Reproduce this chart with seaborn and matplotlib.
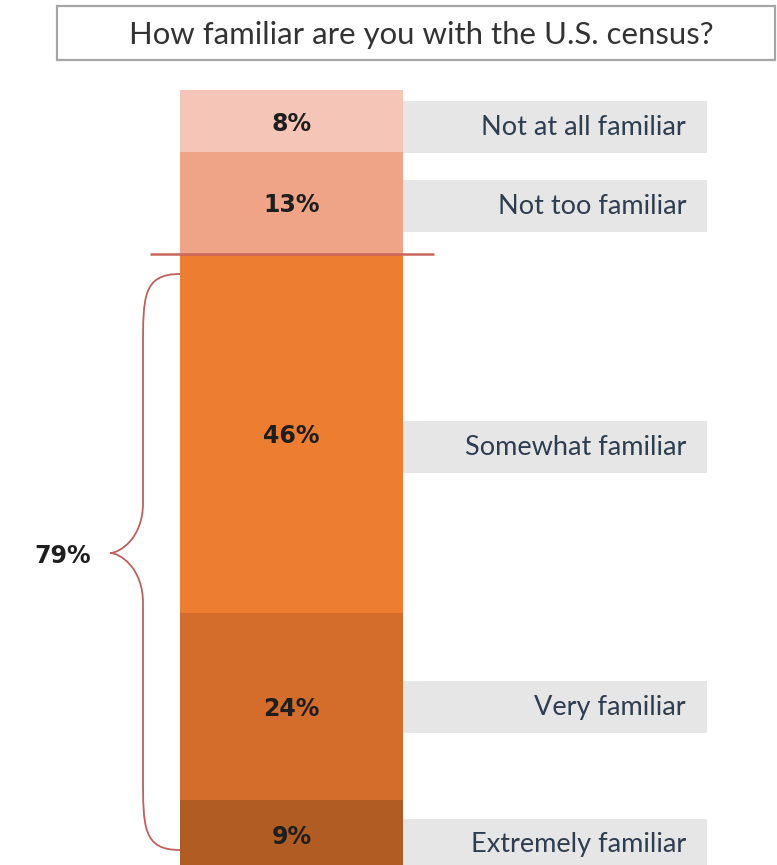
import matplotlib
matplotlib.use("Agg")
import matplotlib.pyplot as plt
import matplotlib.patches as mpatches
from matplotlib.path import Path
import numpy as np
import pandas as pd
import seaborn as sns

# ---------------- data ----------------
title = "How familiar are you with the U.S. census?"
categories = ["Not at all familiar", "Not too familiar", "Somewhat familiar",
              "Very familiar", "Extremely familiar"]
values = [8, 13, 46, 24, 9]
colors = ["#F5C6B7", "#F0A487", "#ED7D31", "#D46C2B", "#B15C22"]
net_count = 3          # last three categories form the "familiar" net
net_label = "79%"

# ---------------- style ----------------
sns.set_theme(style="white")
plt.rcParams["font.family"] = ["Lato", "DejaVu Sans"]

W, H = 777, 865
fig = plt.figure(figsize=(W / 100, H / 100), dpi=100)
ax = fig.add_axes([0, 0, 1, 1])
ax.set_axis_off()

# pixel geometry of the layout
bar_left_px, bar_right_px = 180, 403
top_px, base_px = 90, 870
ppu = (base_px - top_px) / 100.0
bar_w = 0.8
unit = (bar_right_px - bar_left_px) / bar_w
cx_px = (bar_left_px + bar_right_px) / 2


def xd(px):
    return (px - cx_px) / unit


def yd(px):
    return (base_px - px) / ppu


# cumulative (bottom-up) stacking via overlapping seaborn bars
rev_vals = values[::-1]
cum = np.cumsum(rev_vals)
tops = cum[::-1]
bottoms = tops - np.array(values)

for cat, top, col in zip(categories, tops, colors):
    df = pd.DataFrame({"q": ["census"], "pct": [top]})
    sns.barplot(data=df, x="q", y="pct", color=col, saturation=1,
                width=bar_w, linewidth=0, ax=ax)

ax.set_xlim(xd(0), xd(W))
ax.set_ylim(yd(H), yd(0))
ax.set_axis_off()

pct_font = dict(fontsize=17, fontweight="bold", color="#1E1E1E",
                family=["DejaVu Sans"])

# segment value labels
for v, b, t in zip(values, bottoms, tops):
    ax.text(0, (b + t) / 2 - 0.3, f"{v}%", ha="center", va="center", **pct_font)

# category labels with grey bands (offset downward in px)
label_offsets_px = [6, 3, 14, 1, 10]
band_h = 52 / ppu
for cat, b, t, off in zip(categories, bottoms, tops, label_offsets_px):
    yc = (b + t) / 2 - off / ppu
    ax.add_patch(mpatches.Rectangle((xd(403), yc - band_h / 2), xd(707) - xd(403),
                                    band_h, facecolor="#E6E6E6", edgecolor="none",
                                    zorder=0))
    ax.text(xd(686), yc, cat, ha="right", va="center", fontsize=19.5,
            color="#2E3D4F")

# red separator line at the top of the net
net_top = tops[len(values) - net_count]
ax.hlines(net_top, xd(150), xd(434), color="#C8665C", lw=1.8, zorder=5)

# curly brace for the net
y_hi = yd(274)
y_lo = yd(850)
y_mid = yd(553)
x_end, x_line, x_tip = xd(180), xd(143), xd(110)
r_end = 75 / ppu
r_tip = 50 / ppu
verts = [
    (x_end, y_hi),
    (x_line, y_hi), (x_line, y_hi - r_end * 0.3), (x_line, y_hi - r_end),
    (x_line, y_mid + r_tip),
    (x_line, y_mid + r_tip * 0.3), (x_tip + (x_line - x_tip) * 0.3, y_mid), (x_tip, y_mid),
    (x_tip + (x_line - x_tip) * 0.3, y_mid), (x_line, y_mid - r_tip * 0.3), (x_line, y_mid - r_tip),
    (x_line, y_lo + r_end),
    (x_line, y_lo + r_end * 0.3), (x_line, y_lo), (x_end, y_lo),
]
codes = [Path.MOVETO,
         Path.CURVE4, Path.CURVE4, Path.CURVE4,
         Path.LINETO,
         Path.CURVE4, Path.CURVE4, Path.CURVE4,
         Path.CURVE4, Path.CURVE4, Path.CURVE4,
         Path.LINETO,
         Path.CURVE4, Path.CURVE4, Path.CURVE4]
ax.add_patch(mpatches.PathPatch(Path(verts, codes), facecolor="none",
                                edgecolor="#C0605A", lw=1.3))
ax.text(xd(63), yd(556), net_label, ha="center", va="center", **pct_font)

# title box
fig.add_artist(mpatches.Rectangle((57 / W, 1 - 60 / H), (775 - 57) / W, 54 / H,
                                  transform=fig.transFigure, fill=False,
                                  edgecolor="#A6A6A6", lw=1.6))
fig.text(421 / W, 1 - 35 / H, title, ha="center", va="center", fontsize=22.4,
         color="#333333")

fig.savefig("out.png", dpi=100)
